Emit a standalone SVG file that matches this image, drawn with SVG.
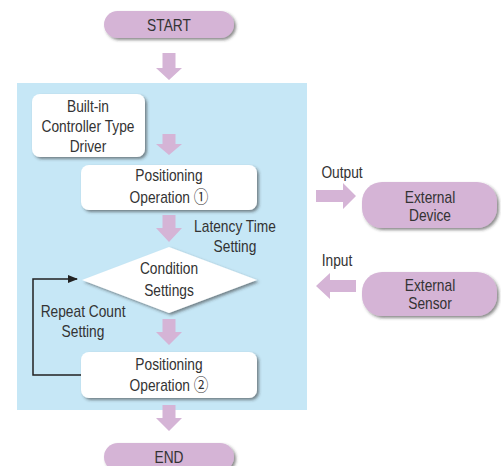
<svg xmlns="http://www.w3.org/2000/svg" width="501" height="466" viewBox="0 0 501 466">
<style>
text{font-family:"Liberation Sans",Arial,"DejaVu Sans",sans-serif;font-size:16px;fill:#333;text-anchor:middle;transform-box:fill-box;transform-origin:center;transform:scaleX(0.86)}
.cd{font-family:"Noto Sans CJK JP","DejaVu Sans",sans-serif;font-size:17px}
.pill{fill:#d5b4d6;filter:url(#sh)}
.box{fill:#fff;filter:url(#sh)}
.arr{fill:#d5b4d6}
</style>
<defs>
<filter id="sh" x="-10%" y="-20%" width="125%" height="150%">
<feDropShadow dx="2" dy="2" stdDeviation="1.5" flood-color="#333" flood-opacity="0.55"/>
</filter>
<marker id="ah" markerWidth="10" markerHeight="8" refX="9" refY="4" orient="auto" markerUnits="userSpaceOnUse">
<path d="M0,0 L10,4 L0,8 Z" fill="#222"/>
</marker>
</defs>
<rect x="17" y="83" width="290" height="327" fill="#c6e7f6"/>
<g id="connectors">
<path class="arr" d="M162.5,53 H175.5 V68 H182 L169,80 L156,68 H162.5 Z"/>
<path class="arr" d="M162.5,134 H175.5 V144 H182 L169,155 L156,144 H162.5 Z"/>
<path class="arr" d="M162.5,215 H175.5 V228 H182 L169,242 L156,228 H162.5 Z"/>
<path class="arr" d="M162.5,319 H175.5 V332 H182 L169,345 L156,332 H162.5 Z"/>
<path class="arr" d="M162.5,405 H175.5 V418 H182 L169,431 L156,418 H162.5 Z"/>
<path class="arr" d="M316,190 H343 V183 L356,196 L343,209 V202 H316 Z"/>
<path class="arr" d="M356,280 H330 V273 L316,286 L330,299 V292 H356 Z"/>
<path d="M81,375 H33 V279 H77" fill="none" stroke="#222" stroke-width="1.5" marker-end="url(#ah)"/>
<text x="235" y="232">Latency Time</text>
<text x="235" y="252">Setting</text>
<text x="83" y="317">Repeat Count</text>
<text x="83" y="337">Setting</text>
<text x="342" y="178">Output</text>
<text x="337" y="266">Input</text>
</g>
<g id="start">
<rect class="pill" x="104" y="11" width="130" height="27" rx="13.5"/>
<text x="169" y="31">START</text>
</g>
<g id="builtin">
<rect class="box" x="32" y="94" width="113" height="63" rx="8"/>
<text x="88" y="112">Built-in</text>
<text x="88" y="132">Controller Type</text>
<text x="88" y="152">Driver</text>
</g>
<g id="op1">
<rect class="box" x="81" y="165" width="176" height="45" rx="8"/>
<text x="169" y="181">Positioning</text>
<text x="169" y="203">Operation <tspan class="cd">①</tspan></text>
</g>
<g id="condition">
<path d="M169,247 L257,280 L169,313 L82,280 Z" fill="#fff" filter="url(#sh)"/>
<text x="169" y="274">Condition</text>
<text x="169" y="296">Settings</text>
</g>
<g id="op2">
<rect class="box" x="81" y="352" width="176" height="46" rx="8"/>
<text x="169" y="370">Positioning</text>
<text x="169" y="391">Operation <tspan class="cd">②</tspan></text>
</g>
<g id="end">
<rect class="pill" x="104" y="443" width="130" height="28" rx="14"/>
<text x="169" y="463">END</text>
</g>
<g id="device">
<rect class="pill" x="362" y="182" width="135" height="46" rx="20"/>
<text x="430" y="203">External</text>
<text x="430" y="221">Device</text>
</g>
<g id="sensor">
<rect class="pill" x="362" y="272" width="135" height="44" rx="20"/>
<text x="430" y="291">External</text>
<text x="430" y="309">Sensor</text>
</g>
</svg>
